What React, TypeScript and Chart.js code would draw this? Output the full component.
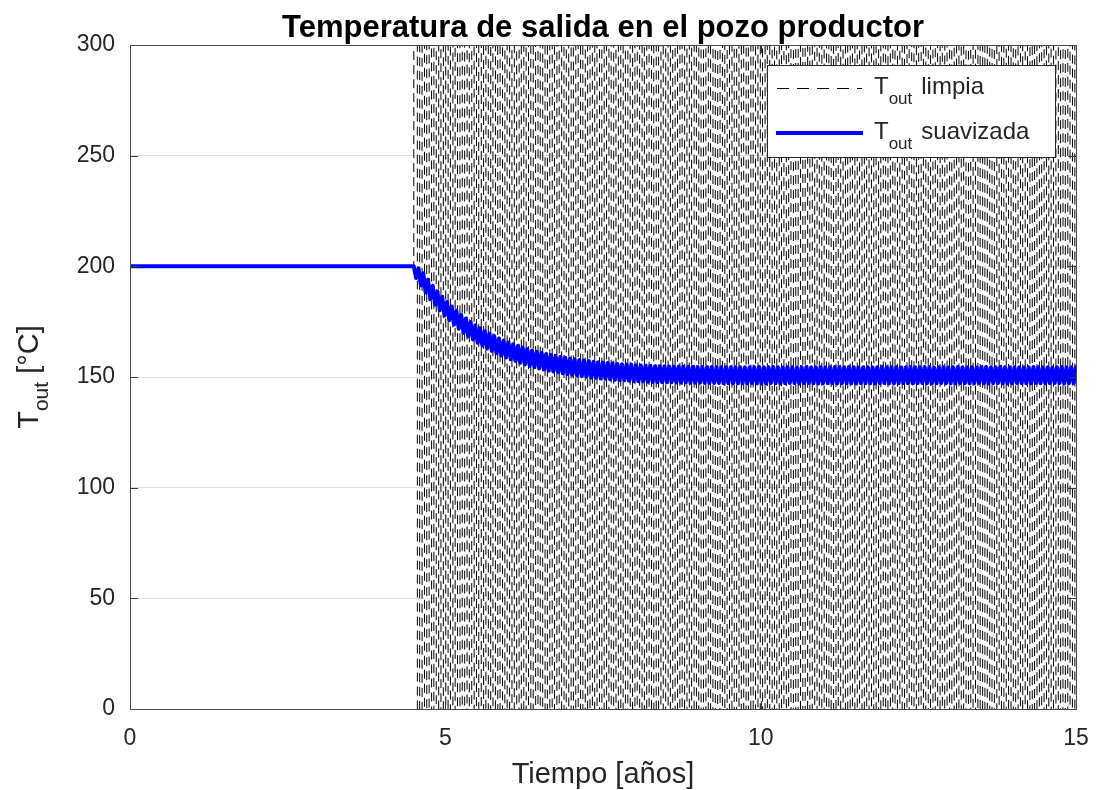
import React, { useEffect, useRef } from 'react';
import { Chart, registerables } from 'chart.js';

Chart.register(...registerables);

// ---------- data ----------
const timeYears = [
  0, 4.5,
  4.5375, 4.575, 4.6125, 4.65, 4.6875, 4.725, 4.7625, 4.8, 4.8375, 4.875, 4.9125, 4.95, 4.9875, 5.025, 5.0625, 5.1, 5.1375, 5.175, 5.2125, 5.25,
  5.2875, 5.325, 5.3625, 5.4, 5.4375, 5.475, 5.5125, 5.55, 5.5875, 5.625, 5.6625, 5.7, 5.7375, 5.775, 5.8125, 5.85, 5.8875, 5.925, 5.9625, 6,
  6.0375, 6.075, 6.1125, 6.15, 6.1875, 6.225, 6.2625, 6.3, 6.3375, 6.375, 6.4125, 6.45, 6.4875, 6.525, 6.5625, 6.6, 6.6375, 6.675, 6.7125, 6.75,
  6.7875, 6.825, 6.8625, 6.9, 6.9375, 6.975, 7.0125, 7.05, 7.0875, 7.125, 7.1625, 7.2, 7.2375, 7.275, 7.3125, 7.35, 7.3875, 7.425, 7.4625, 7.5,
  7.5375, 7.575, 7.6125, 7.65, 7.6875, 7.725, 7.7625, 7.8, 7.8375, 7.875, 7.9125, 7.95, 7.9875, 8.025, 8.0625, 8.1, 8.1375, 8.175, 8.2125, 8.25,
  8.2875, 8.325, 8.3625, 8.4, 8.4375, 8.475, 8.5125, 8.55, 8.5875, 8.625, 8.6625, 8.7, 8.7375, 8.775, 8.8125, 8.85, 8.8875, 8.925, 8.9625, 9,
  9.0375, 9.075, 9.1125, 9.15, 9.1875, 9.225, 9.2625, 9.3, 9.3375, 9.375, 9.4125, 9.45, 9.4875, 9.525, 9.5625, 9.6, 9.6375, 9.675, 9.7125, 9.75,
  9.7875, 9.825, 9.8625, 9.9, 9.9375, 9.975, 10.0125, 10.05, 10.0875, 10.125, 10.1625, 10.2, 10.2375, 10.275, 10.3125, 10.35, 10.3875, 10.425, 10.4625, 10.5,
  10.5375, 10.575, 10.6125, 10.65, 10.6875, 10.725, 10.7625, 10.8, 10.8375, 10.875, 10.9125, 10.95, 10.9875, 11.025, 11.0625, 11.1, 11.1375, 11.175, 11.2125, 11.25,
  11.2875, 11.325, 11.3625, 11.4, 11.4375, 11.475, 11.5125, 11.55, 11.5875, 11.625, 11.6625, 11.7, 11.7375, 11.775, 11.8125, 11.85, 11.8875, 11.925, 11.9625, 12,
  12.0375, 12.075, 12.1125, 12.15, 12.1875, 12.225, 12.2625, 12.3, 12.3375, 12.375, 12.4125, 12.45, 12.4875, 12.525, 12.5625, 12.6, 12.6375, 12.675, 12.7125, 12.75,
  12.7875, 12.825, 12.8625, 12.9, 12.9375, 12.975, 13.0125, 13.05, 13.0875, 13.125, 13.1625, 13.2, 13.2375, 13.275, 13.3125, 13.35, 13.3875, 13.425, 13.4625, 13.5,
  13.5375, 13.575, 13.6125, 13.65, 13.6875, 13.725, 13.7625, 13.8, 13.8375, 13.875, 13.9125, 13.95, 13.9875, 14.025, 14.0625, 14.1, 14.1375, 14.175, 14.2125, 14.25,
  14.2875, 14.325, 14.3625, 14.4, 14.4375, 14.475, 14.5125, 14.55, 14.5875, 14.625, 14.6625, 14.7, 14.7375, 14.775, 14.8125, 14.85, 14.8875, 14.925, 14.9625, 15,
];

const tempLimpia = [
  200, 200,
  9200, -8800, 9600, -9100, 8700, -9400, 9900, -8600, 9300, -9700,
  8900, -9200, 9500, -8900, 9100, -9600, 8800, -9300, 9700, -8700,
  9400, -9000, 8600, -9500, 9800, -8800, 9000, -9900, 9300, -8500,
  9600, -9200, 8800, -9400, 9100, -8700, 9700, -9100, 8900, -9600,
  9200, -8900, 9500, -9300, 8700, -9800, 9400, -8800, 9000, -9500,
  9800, -9000, 8600, -9200, 9300, -8700, 9600, -9400, 8800, -9100,
  9100, -9700, 9400, -8600, 9900, -9300, 8700, -9000, 9500, -8800,
  8900, -9400, 9700, -9100, 9200, -8600, 9000, -9800, 9300, -8900,
  9600, -8700, 8800, -9500, 9100, -9200, 9800, -8800, 8700, -9300,
  9400, -9100, 9000, -8700, 9700, -9600, 8900, -9000, 9500, -9400,
  8800, -9300, 9300, -8900, 9000, -9700, 9600, -8600, 9200, -9100,
  9700, -8800, 8700, -9400, 9400, -9000, 9100, -9500, 8800, -8700,
  9000, -9600, 9800, -9200, 8600, -8900, 9300, -9300, 9600, -9000,
  9200, -8700, 9500, -9800, 8900, -9100, 9100, -8800, 9400, -9200,
  8700, -9500, 9300, -9000, 9600, -8800, 9200, -9700, 8800, -9300,
  9500, -8600, 9000, -9400, 8800, -9200, 9700, -8900, 9100, -9600,
  9300, -9100, 8900, -8700, 9500, -9500, 8600, -9200, 9800, -8800,
  8800, -9700, 9400, -9000, 9200, -8600, 9600, -9300, 8700, -9400,
  9700, -8900, 9100, -9600, 8700, -9100, 9300, -8700, 9500, -9000,
  9000, -9300, 9600, -8800, 9400, -9700, 8900, -9400, 9200, -8600,
  9500, -9000, 8800, -9200, 9700, -8900, 9100, -9600, 8600, -9300,
  8900, -8800, 9300, -9500, 9000, -9200, 9800, -8700, 9400, -9100,
  9600, -9400, 8700, -8900, 9200, -9800, 8800, -9100, 9700, -8800,
  9100, -9200, 9500, -9300, 8800, -8700, 9400, -9500, 9000, -9600,
  8800, -9000, 9700, -8600, 9300, -9400, 9000, -8900, 9600, -9200,
  9400, -9600, 8900, -9100, 9500, -8800, 8700, -9700, 9200, -9000,
  9200, -8700, 9600, -9400, 8900, -9300, 9500, -8800, 9100, -9500,
  9700, -9100, 9000, -8800, 9300, -9600, 8800, -9200, 9500, -8900,
];

const tempSuavizada = [
  200, 200,
  194.7, 199.0, 191.3, 196.9, 188.2, 194.0, 185.3, 191.2, 182.7, 188.6,
  180.2, 186.2, 177.8, 183.9, 175.7, 181.8, 173.7, 179.9, 171.8, 178.1,
  170.0, 176.4, 168.4, 174.8, 166.9, 173.4, 165.5, 172.0, 164.2, 170.7,
  162.9, 169.6, 161.8, 168.5, 160.7, 167.4, 159.7, 166.5, 158.8, 165.6,
  158.0, 164.8, 157.2, 164.0, 156.4, 163.3, 155.7, 162.6, 155.1, 162.0,
  154.5, 161.4, 153.9, 160.9, 153.4, 160.4, 152.9, 159.9, 152.5, 159.5,
  152.1, 159.1, 151.7, 158.7, 151.3, 158.3, 151.0, 158.0, 150.7, 157.7,
  150.4, 157.4, 150.1, 157.2, 149.8, 156.9, 149.6, 156.7, 149.4, 156.5,
  149.2, 156.3, 149.0, 156.1, 148.8, 155.9, 148.6, 155.8, 148.5, 155.6,
  148.3, 155.5, 148.2, 155.3, 148.1, 155.2, 148.0, 155.1, 147.9, 155.0,
  147.8, 154.9, 147.7, 154.9, 147.7, 154.8, 147.6, 154.8, 147.6, 154.7,
  147.5, 154.7, 147.5, 154.6, 147.5, 154.6, 147.4, 154.6, 147.4, 154.5,
  147.4, 154.5, 147.3, 154.5, 147.3, 154.5, 147.3, 154.4, 147.3, 154.4,
  147.2, 154.4, 147.2, 154.4, 147.2, 154.4, 147.2, 154.4, 147.2, 154.4,
  147.2, 154.4, 147.3, 154.4, 147.2, 154.5, 147.1, 154.4, 147.2, 154.4,
  147.3, 154.5, 147.2, 154.4, 147.1, 154.3, 147.2, 154.4, 147.3, 154.4,
  147.2, 154.3, 147.1, 154.4, 147.2, 154.5, 147.3, 154.4, 147.2, 154.4,
  147.1, 154.4, 147.2, 154.3, 147.3, 154.4, 147.2, 154.5, 147.1, 154.4,
  147.2, 154.4, 147.3, 154.5, 147.2, 154.4, 147.1, 154.3, 147.2, 154.4,
  147.3, 154.4, 147.2, 154.3, 147.1, 154.4, 147.2, 154.5, 147.3, 154.4,
  147.2, 154.4, 147.1, 154.4, 147.2, 154.3, 147.3, 154.4, 147.2, 154.5,
  147.1, 154.4, 147.2, 154.4, 147.3, 154.5, 147.2, 154.4, 147.1, 154.3,
  147.2, 154.4, 147.3, 154.4, 147.2, 154.3, 147.1, 154.4, 147.2, 154.5,
  147.3, 154.4, 147.2, 154.4, 147.1, 154.4, 147.2, 154.3, 147.3, 154.4,
  147.2, 154.5, 147.1, 154.4, 147.2, 154.4, 147.3, 154.5, 147.2, 154.4,
  147.1, 154.3, 147.2, 154.4, 147.3, 154.4, 147.2, 154.3, 147.1, 154.4,
  147.2, 154.5, 147.3, 154.4, 147.2, 154.4, 147.1, 154.4, 147.2, 154.3,
  147.3, 154.4, 147.2, 154.5, 147.1, 154.4, 147.2, 154.4, 147.3, 154.5,
];

const xTicks = [0, 5, 10, 15];
const yTicks = [0, 50, 100, 150, 200, 250, 300];
const titleText = 'Temperatura de salida en el pozo productor';
const xLabelText = 'Tiempo [años]';
const yLabelMain = 'T';
const yLabelSub = 'out';
const yLabelRest = ' [°C]';
const legendMain = 'T';
const legendSub = 'out';
const legendWords = ['limpia', 'suavizada'];

const FONT = '"Liberation Sans", Arial, Helvetica, sans-serif';
const TEXT = '#262626';

const decorPlugin = {
  id: 'decor',
  afterDatasetsDraw(chart: any) {
    const { ctx, chartArea } = chart;
    const { left, right, top, bottom } = chartArea;
    const xs = chart.scales.x;
    const ys = chart.scales.y;
    ctx.save();
    ctx.strokeStyle = '#3a3a3a';
    ctx.lineWidth = 1;
    ctx.setLineDash([]);
    ctx.beginPath();
    yTicks.forEach((v) => {
      const py = Math.round(ys.getPixelForValue(v)) + 0.5;
      ctx.moveTo(left, py);
      ctx.lineTo(left + 8, py);
      ctx.moveTo(right, py);
      ctx.lineTo(right - 8, py);
    });
    xTicks.forEach((v) => {
      const px = Math.round(xs.getPixelForValue(v)) + 0.5;
      ctx.moveTo(px, bottom);
      ctx.lineTo(px, bottom - 8);
      ctx.moveTo(px, top);
      ctx.lineTo(px, top + 8);
    });
    ctx.stroke();
    ctx.strokeStyle = '#4a4a4a';
    ctx.strokeRect(Math.round(left) + 0.5, Math.round(top) + 0.5, Math.round(right - left), Math.round(bottom - top));
    ctx.restore();
  },
  afterDraw(chart: any) {
    const { ctx, chartArea } = chart;
    const cx = (chartArea.left + chartArea.right) / 2;
    const cy = (chartArea.top + chartArea.bottom) / 2;
    ctx.save();
    ctx.fillStyle = '#000';
    ctx.textBaseline = 'alphabetic';

    // title
    ctx.font = `bold 31px ${FONT}`;
    ctx.textAlign = 'center';
    ctx.fillText(titleText, cx, 37);

    // x label
    ctx.fillStyle = TEXT;
    ctx.font = `29px ${FONT}`;
    ctx.fillText(xLabelText, cx, 783);

    // y label with subscript
    ctx.textAlign = 'left';
    ctx.save();
    ctx.translate(38, cy);
    ctx.rotate(-Math.PI / 2);
    ctx.font = `29px ${FONT}`;
    const wT = ctx.measureText(yLabelMain).width;
    const wR = ctx.measureText(yLabelRest).width;
    ctx.font = `21px ${FONT}`;
    const wS = ctx.measureText(yLabelSub).width;
    let sx = -(wT + wS + wR) / 2;
    ctx.font = `29px ${FONT}`;
    ctx.fillText(yLabelMain, sx, 0);
    sx += wT;
    ctx.font = `21px ${FONT}`;
    ctx.fillText(yLabelSub, sx, 10);
    sx += wS;
    ctx.font = `29px ${FONT}`;
    ctx.fillText(yLabelRest, sx, 0);
    ctx.restore();

    // legend
    const bx = 767, by = 65, bw = 288, bh = 92;
    ctx.fillStyle = '#fff';
    ctx.fillRect(bx, by, bw, bh);
    ctx.strokeStyle = '#262626';
    ctx.lineWidth = 1;
    ctx.strokeRect(bx + 0.5, by + 0.5, bw, bh);

    ctx.beginPath();
    ctx.setLineDash([12, 8]);
    ctx.strokeStyle = '#000';
    ctx.lineWidth = 1;
    ctx.moveTo(777, 88.5);
    ctx.lineTo(862, 88.5);
    ctx.stroke();
    ctx.setLineDash([]);
    ctx.beginPath();
    ctx.strokeStyle = '#0000ff';
    ctx.lineWidth = 4;
    ctx.moveTo(776, 133);
    ctx.lineTo(863, 133);
    ctx.stroke();

    const rows = [94, 139];
    ctx.fillStyle = TEXT;
    rows.forEach((base, i) => {
      let tx = 874;
      ctx.font = `24px ${FONT}`;
      ctx.fillText(legendMain, tx, base);
      tx += ctx.measureText(legendMain).width;
      ctx.font = `17px ${FONT}`;
      ctx.fillText(legendSub, tx, base + 10);
      tx += ctx.measureText(legendSub).width + 9;
      ctx.font = `24px ${FONT}`;
      ctx.fillText(legendWords[i], tx, base);
    });
    ctx.restore();
  },
};

export default function App() {
  const ref = useRef<HTMLCanvasElement | null>(null);
  useEffect(() => {
    if (!ref.current) return;
    const limpiaPts = timeYears.map((t, i) => ({ x: t, y: tempLimpia[i] }));
    const suavPts = timeYears.map((t, i) => ({ x: t, y: tempSuavizada[i] }));
    const chart = new Chart(ref.current, {
      type: 'line',
      data: {
        datasets: [
          {
            label: 'T_out limpia',
            data: limpiaPts,
            borderColor: '#000000',
            borderWidth: 1,
            borderDash: [9, 5],
            pointRadius: 0,
            tension: 0,
            fill: false,
            clip: 0,
            order: 2,
          },
          {
            label: 'T_out suavizada',
            data: suavPts,
            borderColor: '#0000ff',
            borderWidth: 4,
            borderJoinStyle: 'round',
            borderCapStyle: 'round',
            pointRadius: 0,
            tension: 0,
            fill: false,
            clip: 0,
            order: 1,
          },
        ],
      },
      options: {
        animation: false,
        responsive: false,
        devicePixelRatio: 1,
        layout: { padding: { left: 0, right: 23, top: 45, bottom: 0 } },
        plugins: {
          legend: { display: false },
          title: { display: false },
          tooltip: { enabled: false },
        },
        scales: {
          x: {
            type: 'linear',
            min: 0,
            max: 15,
            afterBuildTicks: (s: any) => {
              s.ticks = xTicks.map((v) => ({ value: v }));
            },
            ticks: {
              font: { family: FONT, size: 23 },
              color: TEXT,
              padding: 16,
              maxRotation: 0,
              autoSkip: false,
            },
            grid: { color: '#e2e2e2', drawTicks: false, lineWidth: 1 },
            border: { display: false },
            afterFit: (s: any) => {
              s.height = 81;
              s.paddingLeft = 0;
              s.paddingRight = 0;
            },
          },
          y: {
            type: 'linear',
            min: 0,
            max: 300,
            afterBuildTicks: (s: any) => {
              s.ticks = yTicks.map((v) => ({ value: v }));
            },
            ticks: {
              font: { family: FONT, size: 23 },
              color: TEXT,
              padding: 15,
              autoSkip: false,
            },
            grid: { color: '#e2e2e2', drawTicks: false, lineWidth: 1 },
            border: { display: false },
            afterFit: (s: any) => {
              s.width = 130;
            },
          },
        },
      },
      plugins: [decorPlugin],
    });
    return () => chart.destroy();
  }, []);

  return (
    <div style={{ position: 'fixed', left: 0, top: 0, width: 1099, height: 790, background: '#fff' }}>
      <canvas ref={ref} width={1099} height={790} style={{ width: 1099, height: 790, display: 'block' }} />
    </div>
  );
}
